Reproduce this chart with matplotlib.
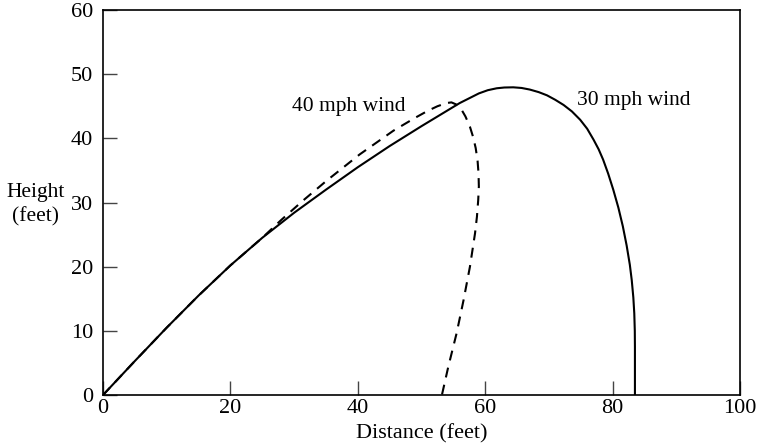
import matplotlib
matplotlib.use("Agg")
import matplotlib.pyplot as plt

# trajectories (feet)
wind30_x = [0, 5, 10, 15, 20, 25, 30, 35, 40, 45, 50, 53, 56, 59, 60.4, 61.8,
            63, 64.4, 65.7, 67, 68.4, 69.7, 71, 72.3, 73.6, 74.9, 76, 77, 77.8,
            78.5, 79.3, 80.1, 80.9, 81.6, 82.2, 82.7, 83.0, 83.25, 83.4, 83.48,
            83.5, 83.5]
wind30_y = [0, 5.3, 10.5, 15.5, 20.2, 24.5, 28.4, 32, 35.5, 38.8, 41.9, 43.7,
            45.5, 47.0, 47.5, 47.8, 47.92, 47.95, 47.85, 47.6, 47.2, 46.7, 46.0,
            45.2, 44.2, 42.9, 41.5, 39.8, 38.3, 36.7, 34.5, 32.0, 29.2, 26.3,
            23.3, 20.3, 17.9, 15.2, 12.7, 10.0, 7.5, 0]

wind40_x = [0, 5, 10, 15, 20, 25, 28, 31.4, 35.1, 40.3, 45.6, 49, 51, 52.5,
            53.9, 54.7, 55.4, 56.2, 56.9, 57.6, 58.1, 58.5, 58.8, 58.95, 59.0,
            58.9, 58.7, 58.4, 58.0, 57.6, 56.6, 55.5, 54.2, 53.2]
wind40_y = [0, 5.3, 10.5, 15.5, 20.2, 24.5, 27.3, 30.3, 33.4, 37.5, 41.2, 43.2,
            44.3, 45.0, 45.5, 45.6, 45.3, 44.6, 43.4, 41.8, 40.2, 38.5, 36.5,
            34.5, 32.5, 30.4, 27.8, 25.2, 22.6, 20.0, 14.8, 9.6, 4.4, 0]

x_ticks = [0, 20, 40, 60, 80, 100]
y_ticks = [0, 10, 20, 30, 40, 50, 60]

plt.rcParams["font.family"] = ["Liberation Serif", "DejaVu Serif"]
plt.rcParams["font.size"] = 16

fig = plt.figure(figsize=(7.58, 4.46), dpi=100)
ax = fig.add_axes([0.1359, 0.1143, 0.8404, 0.8633])

ax.plot(wind30_x, wind30_y, color="black", lw=1.5,
        solid_joinstyle="round")
ax.plot(wind40_x, wind40_y, color="black", lw=1.5,
        linestyle=(0, (4.8, 3.6)))

ax.text(38.5, 44.9, "40 mph wind", ha="center", va="center", fontsize=15.5)
ax.text(83.3, 45.9, "30 mph wind", ha="center", va="center", fontsize=15.5)

ax.set_xlim(0, 100)
ax.set_ylim(0, 60)
ax.set_xticks(x_ticks)
ax.set_yticks(y_ticks)
ax.tick_params(axis="both", direction="in", length=10, width=1,
               color="#444444")
ax.tick_params(axis="y", pad=7)
ax.tick_params(axis="x", pad=3)
for s in ax.spines.values():
    s.set_linewidth(1.2)

ax.set_xlabel("Distance (feet)", labelpad=4)
fig.text(0.047, 0.541, "Height\n(feet)", ha="center", va="center",
         multialignment="center", fontsize=15.5, linespacing=1.4)

fig.savefig("out.png", dpi=100)
